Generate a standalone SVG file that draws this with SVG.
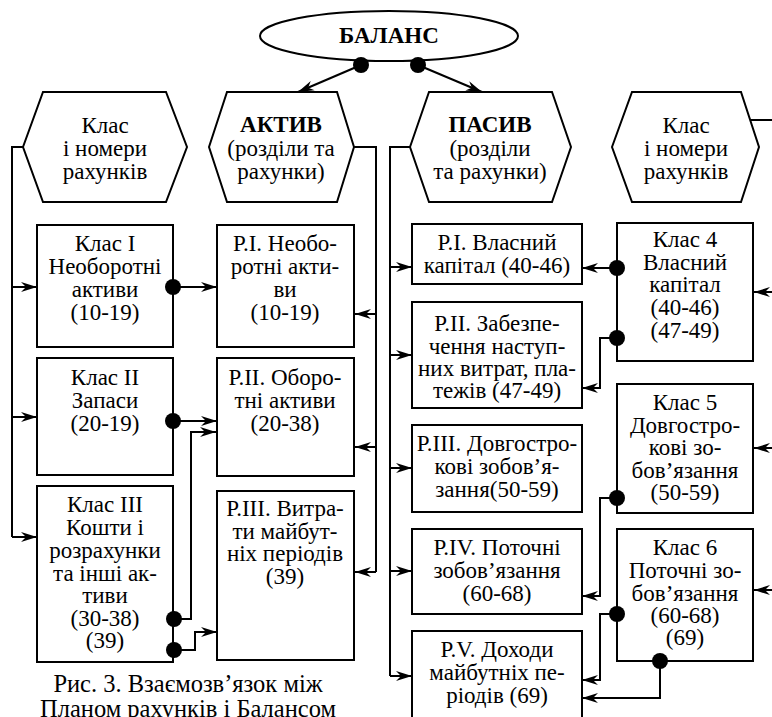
<svg xmlns="http://www.w3.org/2000/svg" width="772" height="717" viewBox="0 0 772 717" font-family="'Liberation Serif', Tinos, 'Times New Roman', 'DejaVu Serif', serif">
<style>
text{font-family:'Liberation Serif',Tinos,'Times New Roman','DejaVu Serif',serif;font-size:23px;fill:#000;text-anchor:middle}
.b{font-weight:bold}
.cap{font-size:24.5px}
.shape{fill:#fff;stroke:#000;stroke-width:2}
.ln{fill:none;stroke:#000;stroke-width:2}
.dot{fill:#000}
</style>
<defs>
<marker id="ah" markerWidth="17" markerHeight="12" refX="16" refY="6" orient="auto" markerUnits="userSpaceOnUse">
<path d="M0,1 L16,6 L0,11 L5,6 Z" fill="#000"/>
</marker>
</defs>
<rect width="772" height="717" fill="#fff"/>

<g id="balance">
<ellipse class="shape" cx="389" cy="36" rx="129" ry="25"/>
<text class="b" x="389" y="43">БАЛАНС</text>
</g>

<g id="hex-class-left">
<path class="shape" d="M23,147 L43,92 L166,92 L187,147 L166,202 L43,202 Z"/>
<text x="105" y="133">Клас</text>
<text x="105" y="156">і номери</text>
<text x="105" y="179">рахунків</text>
</g>
<g id="hex-aktyv">
<path class="shape" d="M209,147 L227,92 L337,92 L354,147 L337,202 L227,202 Z"/>
<text class="b" x="281" y="132">АКТИВ</text>
<text x="281" y="156">(розділи та</text>
<text x="281" y="179">рахунки)</text>
</g>
<g id="hex-pasyv">
<path class="shape" d="M410,147 L429,92 L552,92 L571,147 L552,202 L429,202 Z"/>
<text class="b" x="490" y="132">ПАСИВ</text>
<text x="490" y="156">(розділи</text>
<text x="490" y="179">та рахунки)</text>
</g>
<g id="hex-class-right">
<path class="shape" d="M612,147 L632,92 L741,92 L759,147 L741,202 L632,202 Z"/>
<text x="686" y="133">Клас</text>
<text x="686" y="156">і номери</text>
<text x="686" y="179">рахунків</text>
</g>

<g id="klas1">
<rect class="shape" x="37" y="225" width="136" height="122"/>
<text x="105" y="251">Клас I</text>
<text x="105" y="274">Необоротні</text>
<text x="105" y="297">активи</text>
<text x="105" y="320">(10-19)</text>
</g>
<g id="klas2">
<rect class="shape" x="37" y="358" width="136" height="117"/>
<text x="105" y="385">Клас II</text>
<text x="105" y="408">Запаси</text>
<text x="105" y="431">(20-19)</text>
</g>
<g id="klas3">
<rect class="shape" x="37" y="486" width="136" height="176"/>
<text x="105" y="512">Клас III</text>
<text x="105" y="535">Кошти і</text>
<text x="105" y="558">розрахунки</text>
<text x="105" y="581">та інші ак-</text>
<text x="105" y="603">тиви</text>
<text x="105" y="626">(30-38)</text>
<text x="105" y="648">(39)</text>
</g>

<g id="a-r1">
<rect class="shape" x="217" y="225" width="137" height="122"/>
<text x="285" y="251">Р.І. Необо-</text>
<text x="285" y="274">ротні акти-</text>
<text x="285" y="297">ви</text>
<text x="285" y="320">(10-19)</text>
</g>
<g id="a-r2">
<rect class="shape" x="217" y="358" width="137" height="118"/>
<text x="285" y="385">Р.ІІ. Оборо-</text>
<text x="285" y="408">тні активи</text>
<text x="285" y="431">(20-38)</text>
</g>
<g id="a-r3">
<rect class="shape" x="217" y="491" width="137" height="169"/>
<text x="285" y="516">Р.ІІІ. Витра-</text>
<text x="285" y="539">ти майбут-</text>
<text x="285" y="561">ніх періодів</text>
<text x="285" y="584">(39)</text>
</g>

<g id="p-r1">
<rect class="shape" x="412" y="224" width="170" height="60"/>
<text x="497" y="250">Р.І. Власний</text>
<text x="497" y="273">капітал (40-46)</text>
</g>
<g id="p-r2">
<rect class="shape" x="412" y="302" width="170" height="106"/>
<text x="497" y="331">Р.ІІ. Забезпе-</text>
<text x="497" y="354">чення наступ-</text>
<text x="497" y="376">них витрат, пла-</text>
<text x="497" y="398">тежів (47-49)</text>
</g>
<g id="p-r3">
<rect class="shape" x="412" y="425" width="170" height="87"/>
<text x="497" y="451">Р.ІІІ. Довгостро-</text>
<text x="497" y="474">кові зобов’я-</text>
<text x="497" y="497">зання(50-59)</text>
</g>
<g id="p-r4">
<rect class="shape" x="412" y="529" width="170" height="85"/>
<text x="497" y="555">Р.IV. Поточні</text>
<text x="497" y="578">зобов’язання</text>
<text x="497" y="601">(60-68)</text>
</g>
<g id="p-r5">
<rect class="shape" x="412" y="631" width="170" height="90"/>
<text x="497" y="657">Р.V. Доходи</text>
<text x="497" y="680">майбутніх пе-</text>
<text x="497" y="703">ріодів (69)</text>
</g>

<g id="klas4">
<rect class="shape" x="617" y="223" width="136" height="138"/>
<text x="685" y="247">Клас 4</text>
<text x="685" y="270">Власний</text>
<text x="685" y="292">капітал</text>
<text x="685" y="315">(40-46)</text>
<text x="685" y="338">(47-49)</text>
</g>
<g id="klas5">
<rect class="shape" x="617" y="384" width="136" height="129"/>
<text x="685" y="410">Клас 5</text>
<text x="685" y="433">Довгостро-</text>
<text x="685" y="455">кові зо-</text>
<text x="685" y="478">бов’язання</text>
<text x="685" y="500">(50-59)</text>
</g>
<g id="klas6">
<rect class="shape" x="617" y="529" width="136" height="132"/>
<text x="685" y="555">Клас 6</text>
<text x="685" y="578">Поточні зо-</text>
<text x="685" y="601">бов’язання</text>
<text x="685" y="623">(60-68)</text>
<text x="685" y="645">(69)</text>
</g>

<g id="caption">
<text class="cap" x="188" y="692">Рис. 3. Взаємозв’язок між</text>
<text class="cap" x="188" y="717">Планом рахунків і Балансом</text>
</g>

<g id="connectors">
<line class="ln" x1="361" y1="65" x2="298" y2="92" marker-end="url(#ah)"/>
<line class="ln" x1="418" y1="65" x2="482" y2="92" marker-end="url(#ah)"/>
<circle class="dot" cx="361" cy="65" r="8"/>
<circle class="dot" cx="418" cy="65" r="8"/>
<polyline class="ln" points="23,147 12,147 12,537"/>
<line class="ln" x1="12" y1="287" x2="37" y2="287" marker-end="url(#ah)"/>
<line class="ln" x1="12" y1="417" x2="37" y2="417" marker-end="url(#ah)"/>
<line class="ln" x1="12" y1="537" x2="37" y2="537" marker-end="url(#ah)"/>
<polyline class="ln" points="354,147 376,147 376,572"/>
<line class="ln" x1="376" y1="314" x2="355" y2="314" marker-end="url(#ah)"/>
<line class="ln" x1="376" y1="447" x2="355" y2="447" marker-end="url(#ah)"/>
<line class="ln" x1="376" y1="572" x2="355" y2="572" marker-end="url(#ah)"/>
<polyline class="ln" points="410,147 390,147 390,676"/>
<line class="ln" x1="390" y1="267" x2="412" y2="267" marker-end="url(#ah)"/>
<line class="ln" x1="390" y1="355" x2="412" y2="355" marker-end="url(#ah)"/>
<line class="ln" x1="390" y1="468" x2="412" y2="468" marker-end="url(#ah)"/>
<line class="ln" x1="390" y1="571" x2="412" y2="571" marker-end="url(#ah)"/>
<line class="ln" x1="390" y1="676" x2="412" y2="676" marker-end="url(#ah)"/>
<line class="ln" x1="750" y1="120" x2="772" y2="120"/>
<line class="ln" x1="772" y1="292" x2="754" y2="292" marker-end="url(#ah)"/>
<line class="ln" x1="772" y1="448" x2="754" y2="448" marker-end="url(#ah)"/>
<line class="ln" x1="772" y1="590" x2="754" y2="590" marker-end="url(#ah)"/>
<line class="ln" x1="173" y1="287" x2="217" y2="287" marker-end="url(#ah)"/>
<line class="ln" x1="173" y1="421" x2="217" y2="421" marker-end="url(#ah)"/>
<polyline class="ln" points="173,619 191,619 191,432 216,432" marker-end="url(#ah)"/>
<polyline class="ln" points="173,650 195,650 195,632 217,632" marker-end="url(#ah)"/>
<circle class="dot" cx="173" cy="287" r="8"/>
<circle class="dot" cx="173" cy="421" r="8"/>
<circle class="dot" cx="174" cy="619" r="8"/>
<circle class="dot" cx="174" cy="650" r="8"/>
<line class="ln" x1="617" y1="268" x2="582" y2="268" marker-end="url(#ah)"/>
<polyline class="ln" points="617,338 600,338 600,388 582,388" marker-end="url(#ah)"/>
<polyline class="ln" points="617,498 600,498 600,596 582,596" marker-end="url(#ah)"/>
<polyline class="ln" points="617,614 600,614 600,680 582,680" marker-end="url(#ah)"/>
<polyline class="ln" points="660,661 660,698 582,698" marker-end="url(#ah)"/>
<circle class="dot" cx="617" cy="268" r="8"/>
<circle class="dot" cx="617" cy="338" r="8"/>
<circle class="dot" cx="617" cy="498" r="8"/>
<circle class="dot" cx="617" cy="614" r="8"/>
<circle class="dot" cx="660" cy="661" r="8"/>
</g>
</svg>
